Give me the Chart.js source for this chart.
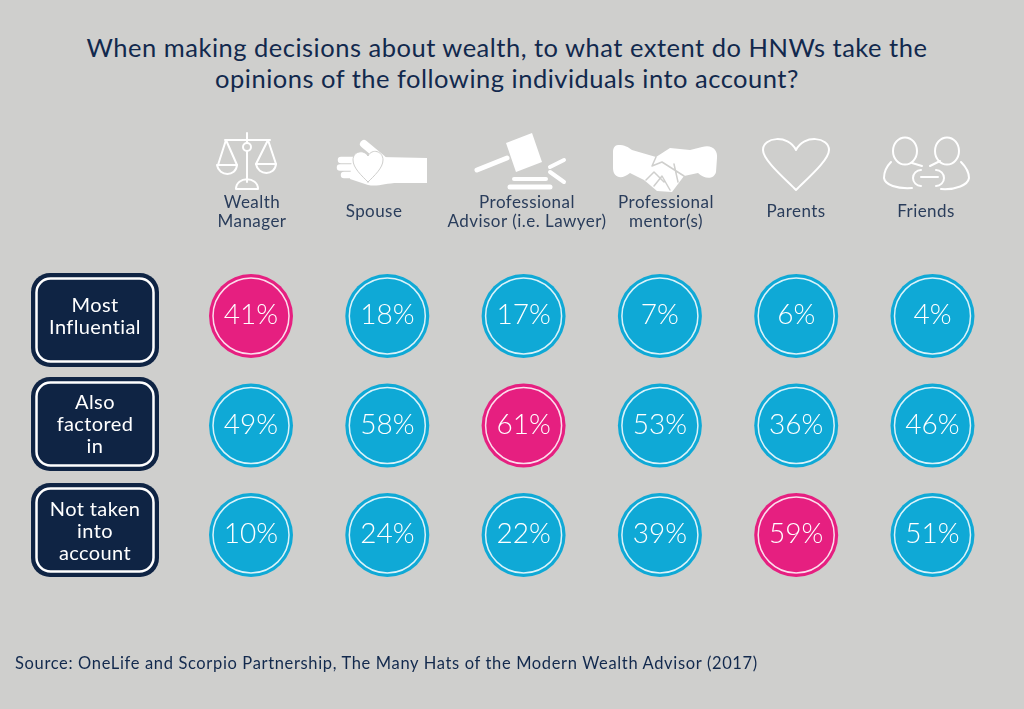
<!DOCTYPE html>
<html>
<head>
<meta charset="utf-8">
<title>HNW decision influences</title>
<script src="https://cdn.jsdelivr.net/npm/chart.js@4"></script>
<style>
  html, body { margin: 0; background: #cfcfcd; }
  #wrap { position: relative; width: 1024px; height: 709px; overflow: hidden; font-family: Lato, sans-serif; }
  #wrap canvas, #icons { position: absolute; left: 0; top: 0; }
  h1 { position: absolute; left: 0; top: 32px; width: 1014px; margin: 0; text-align: center; font-weight: 400; font-size: 25.5px; line-height: 31px; letter-spacing: 0.5px; color: #12294d; }
  p { position: absolute; left: 15px; top: 652px; margin: 0; font-size: 16.5px; line-height: 22px; letter-spacing: 0.65px; color: #12294d; white-space: nowrap; }
</style>
</head>
<body>
<div id="wrap">
  <h1>When making decisions about wealth, to what extent do HNWs take the<br>opinions of the following individuals into account?</h1>
  <svg id="icons" width="1024" height="709" fill="none" stroke="#fff" stroke-width="2" stroke-linecap="round" stroke-linejoin="round">
    <!-- scales -->
    <path d="M247 133V182M225 140H270M226 140L218 165M226 140L237 165M268 140L256 164M268 140L276 164"/>
    <circle cx="247" cy="147" r="4" fill="#cfcfcd"/>
    <path d="M217 165H237C236 177 219 177 217 165ZM256 164H276C275 176 258 176 256 164ZM236 189C236 176 258 176 258 189Z"/>
    <!-- hand and heart -->
    <path fill="#fff" stroke="none" d="M427 158V183H398C385 183 378 187 368 185L350 179L352 157H381Z"/>
    <path stroke-width="8" d="M364 144L382 159"/>
    <path stroke-width="6.5" d="M341 160H360M340 167.5H360M344 175H360"/>
    <path fill="#fff" stroke="#cfcfcd" stroke-width="1" d="M368 182C362 176 353 168 353 160C353 151 364 149 368 156C372 148 383 151 383 160C383 168 374 176 368 182Z"/>
    <!-- gavel -->
    <path fill="#fff" stroke="none" d="M506 143L532 133L542 162L516 172Z"/>
    <path stroke-width="5" d="M477 170L507 158"/>
    <path stroke-width="4" d="M514 179H546M550 167L564 160M550 172L564 182"/>
    <path stroke-width="5" d="M510 187H550"/>
    <!-- handshake -->
    <path fill="#fff" stroke="none" d="M618 145C625 145 628 147 632 150L656 157L670 148L690 150L702 147C712 144 718 150 717 158L716 172C714 180 704 179 698 173L684 176L672 192L657 191L644 180L630 173C622 180 613 178 613 168L613 152C613 148 615 145 618 145Z"/>
    <path stroke="#cfcfcd" stroke-width="1.5" d="M656 157L652 166L662 162L684 176M674 164L678 182M646 180L654 172L664 182M654 186L662 176L670 190"/>
    <!-- heart outline -->
    <path d="M796 190C784 178 763 160 763 150C763 137 788 134 796 150C804 134 829 137 829 150C829 160 808 178 796 190Z"/>
    <!-- friends -->
    <ellipse cx="905" cy="151" rx="12" ry="13.5"/>
    <ellipse cx="947" cy="151" rx="12" ry="13.5"/>
    <path d="M891 162C886 167 884 172 884 178C885 185 897 189 912 188M912 163L922 166M930 166L940 161M961 162C966 167 969 172 969 178C968 185 956 190 941 189M921 170A8 8 0 1 0 921 186M921 177H938M936 170A8 8 0 1 1 936 186"/>
  </svg>
  <canvas id="chart" width="1024" height="709"></canvas>
  <p>Source: OneLife and Scorpio Partnership, The Many Hats of the Modern Wealth Advisor (2017)</p>
</div>
<script>
const people = ["Wealth\nManager", "Spouse", "Professional\nAdvisor (i.e. Lawyer)", "Professional\nmentor(s)", "Parents", "Friends"];
const influence = ["Most\nInfluential", "Also\nfactored\nin", "Not taken\ninto\naccount"];
const mostInfluential = [41, 18, 17, 7, 6, 4];
const alsoFactoredIn = [49, 58, 61, 53, 36, 46];
const notTakenIntoAccount = [10, 24, 22, 39, 59, 51];
const rows = [mostInfluential, alsoFactoredIn, notTakenIntoAccount];

// header text and row boxes do not sit exactly on the grid in the original
const headerX = [252, 374, 527, 666, 796, 926];
const boxTop = [273, 377, 483];
const boxTextY = [317, 425, 532];

const navy = "#0f2444";
const blue = "#0fa9d6";
const pink = "#e61f80";

const points = [];
const colours = [];
rows.forEach((row, r) => {
  const top = Math.max(...row);
  row.forEach((v, c) => {
    points.push({ x: people[c], y: influence[r], v: v });
    colours.push(v === top ? pink : blue);
  });
});

function drawLines(ctx, lines, x, y, lineHeight) {
  const start = y - (lines.length - 1) * lineHeight / 2;
  lines.forEach((line, i) => ctx.fillText(line, x, start + i * lineHeight));
}

const textPlugin = {
  id: "textPlugin",
  afterDatasetsDraw(chart) {
    const ctx = chart.ctx;
    ctx.save();
    ctx.textAlign = "center";
    ctx.textBaseline = "middle";

    // column headers
    ctx.font = "400 17px Lato";
    ctx.fillStyle = "#2a3d5b";
    ctx.letterSpacing = "0.45px";
    people.forEach((name, i) => drawLines(ctx, name.split("\n"), headerX[i], 212, 19.5));

    // row boxes
    influence.forEach((name, i) => {
      ctx.fillStyle = navy;
      ctx.beginPath();
      ctx.roundRect(31, boxTop[i], 128, 94, 19);
      ctx.fill();
      ctx.strokeStyle = "#fff";
      ctx.lineWidth = 2.5;
      ctx.beginPath();
      ctx.roundRect(36.5, boxTop[i] + 5.5, 117, 83, 14);
      ctx.stroke();
      ctx.fillStyle = "#fff";
      ctx.font = "400 20px Lato";
      ctx.letterSpacing = "0.4px";
      drawLines(ctx, name.split("\n"), 95, boxTextY[i], 22);
    });

    // percent labels
    ctx.font = "300 28px Lato";
    ctx.letterSpacing = "0px";
    ctx.fillStyle = "#fff";
    chart.getDatasetMeta(0).data.forEach((pt, i) => {
      ctx.fillText(points[i].v + "%", pt.x, pt.y - 1);
    });
    ctx.restore();
  }
};

new Chart(document.getElementById("chart"), {
  type: "scatter",
  data: {
    datasets: [
      // lower order draws on top, so the ring stays above the disc
      { data: points, order: 2, pointRadius: 42, pointHoverRadius: 42, backgroundColor: colours, borderWidth: 0, clip: false },
      { data: points, order: 1, pointRadius: 38, pointHoverRadius: 38, backgroundColor: "transparent", borderColor: "rgba(255,255,255,0.85)", borderWidth: 1.5, clip: false }
    ]
  },
  options: {
    responsive: false,
    animation: false,
    layout: { padding: { left: 251, right: 91.5, top: 316, bottom: 174 } },
    scales: {
      x: { type: "category", labels: people, display: false },
      y: { type: "category", labels: influence, display: false }
    },
    plugins: {
      legend: { display: false },
      tooltip: { enabled: false }
    }
  },
  plugins: [textPlugin]
});
</script>
</body>
</html>
